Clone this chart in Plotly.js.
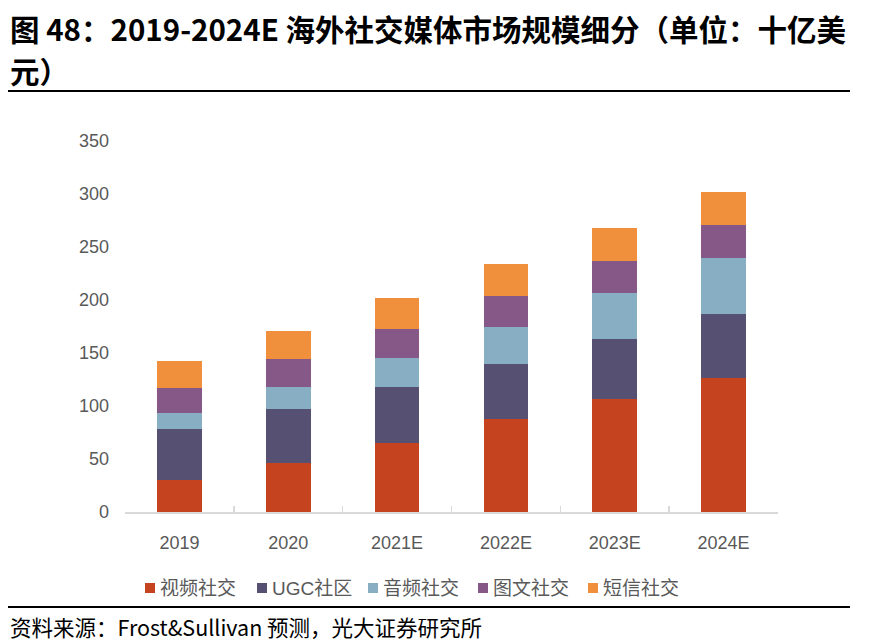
<!DOCTYPE html>
<html>
<head>
<meta charset="utf-8">
<script src="https://cdn.plot.ly/plotly-3.0.1.min.js"></script>
<style>html,body{margin:0;padding:0;background:#fff;}#chart{width:875px;height:644px;}</style>
</head>
<body>
<div id="chart"></div>
<script>
const categories = ["2019", "2020", "2021E", "2022E", "2023E", "2024E"];
const seriesNames = ["视频社交", "UGC社区", "音频社交", "图文社交", "短信社交"];
const videoSocial = [30, 46, 65, 88, 106.5, 126.7];
const ugcCommunity = [48, 51, 52.5, 52, 56.5, 60];
const audioSocial = [15, 21, 28, 34.5, 43.7, 52.5];
const imageTextSocial = [24, 26, 27.6, 29.6, 30, 31.2];
const messagingSocial = [25, 27, 28.7, 29.5, 31, 31.1];
const yTicks = [0, 50, 100, 150, 200, 250, 300, 350];
const titleLine1 = "图 48：2019-2024E 海外社交媒体市场规模细分（单位：十亿美";
const titleLine2 = "元）";
const sourceText = "资料来源：Frost&Sullivan 预测，光大证券研究所";

const colors = ["#C5441F", "#565173", "#87AEC2", "#855888", "#F1903C"];
const values = [videoSocial, ugcCommunity, audioSocial, imageTextSocial, messagingSocial];

const W = 875, H = 644;
const mL = 125, mR = 97, mT = 141, mB = 132;
const pw = W - mL - mR, ph = H - mT - mB;
const px = x => (x - mL) / pw;
const py = y => (H - mB - y) / ph;

const traces = seriesNames.map((n, i) => ({
  type: "bar",
  name: n,
  x: categories,
  y: values[i],
  marker: {color: colors[i], line: {width: 0}},
  hoverinfo: "skip",
  showlegend: false
}));

// legend drawn as small squares + labels
const legendStart = [150, 262, 373, 483, 593];
const legendShapes = seriesNames.map((n, i) => ({
  type: "rect", xref: "paper", yref: "paper",
  x0: px(legendStart[i] - 5), x1: px(legendStart[i] + 5),
  y0: py(583), y1: py(593),
  fillcolor: colors[i], line: {width: 0}
}));
const legendLabels = seriesNames.map((n, i) => ({
  xref: "paper", yref: "paper", x: px(legendStart[i] + 8), y: py(588),
  xanchor: "left", yanchor: "middle", showarrow: false, text: n,
  font: {family: "Liberation Sans, Noto Sans CJK SC, sans-serif", size: 19, color: "#595959"}
}));

const layout = {
  width: W, height: H,
  margin: {l: mL, r: mR, t: mT, b: mB, pad: 0},
  paper_bgcolor: "#fff", plot_bgcolor: "#fff",
  barmode: "stack",
  bargap: 0.59,
  font: {family: "Liberation Sans, Arial, sans-serif", color: "#595959", size: 18},
  showlegend: false,
  xaxis: {
    type: "category",
    showline: true, linecolor: "#D9D9D9", linewidth: 1.5,
    ticks: "inside", ticklen: 6, tickcolor: "#D9D9D9", tickwidth: 1.5,
    tickson: "boundaries",
    ticklabelstandoff: 14,
    showgrid: false, zeroline: false,
    tickfont: {size: 18, color: "#595959"},
    fixedrange: true
  },
  yaxis: {
    range: [0, 350], tickvals: yTicks, ticktext: yTicks.map(String),
    showline: false, showgrid: false, zeroline: false, ticks: "",
    ticklabelstandoff: 15,
    tickfont: {size: 18, color: "#595959"},
    fixedrange: true
  },
  shapes: [
    {type: "line", xref: "paper", yref: "paper", x0: px(8), x1: px(850), y0: py(91), y1: py(91), line: {color: "#000", width: 2}},
    {type: "line", xref: "paper", yref: "paper", x0: px(8), x1: px(850), y0: py(607), y1: py(607), line: {color: "#000", width: 2}}
  ].concat(legendShapes),
  annotations: [
    {xref: "paper", yref: "paper", x: px(8), y: py(28), xanchor: "left", yanchor: "middle", showarrow: false,
     text: "<b>" + titleLine1 + "</b>", font: {family: "Noto Sans CJK SC, sans-serif", size: 29.5, color: "#000"}},
    {xref: "paper", yref: "paper", x: px(8), y: py(70), xanchor: "left", yanchor: "middle", showarrow: false,
     text: "<b>" + titleLine2 + "</b>", font: {family: "Noto Sans CJK SC, sans-serif", size: 29.5, color: "#000"}},
    {xref: "paper", yref: "paper", x: px(8), y: py(626), xanchor: "left", yanchor: "middle", showarrow: false,
     text: sourceText, font: {family: "Noto Sans CJK SC, sans-serif", size: 21.5, color: "#000"}}
  ].concat(legendLabels)
};

Plotly.newPlot("chart", traces, layout, {displayModeBar: false, staticPlot: true});
</script>
</body>
</html>
